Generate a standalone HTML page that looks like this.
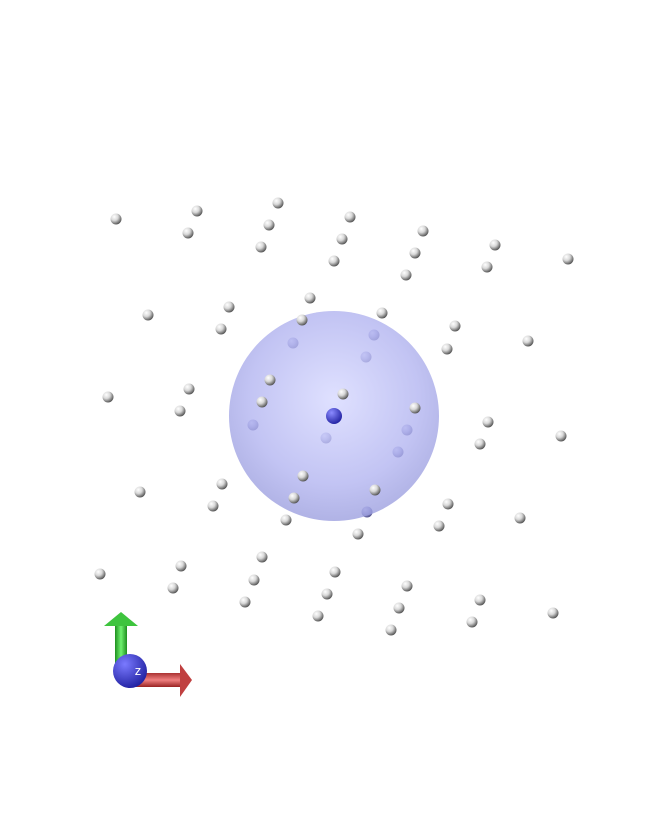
<!DOCTYPE html>
<html><head><meta charset="utf-8"><style>
html,body{margin:0;padding:0;background:#fff;}
svg{display:block;font-family:"Liberation Sans",sans-serif;}
</style></head><body>
<svg id="chart" width="669" height="834" viewBox="0 0 669 834" xmlns="http://www.w3.org/2000/svg">
<defs>
<radialGradient id="atomW" cx="0.35" cy="0.3" r="0.75">
<stop offset="0" stop-color="#ffffff"/><stop offset="0.45" stop-color="#d8d8d8"/><stop offset="1" stop-color="#4a4a4a"/></radialGradient>
<radialGradient id="atomB" cx="0.35" cy="0.3" r="0.75">
<stop offset="0" stop-color="#d0d0f2"/><stop offset="0.5" stop-color="#9a9ad0"/><stop offset="1" stop-color="#50508a"/></radialGradient>
<radialGradient id="shell" cx="0.5" cy="0.42" r="0.58">
<stop offset="0" stop-color="#d6d8ff"/><stop offset="0.7" stop-color="#b1b3f0"/><stop offset="1" stop-color="#9a9dde"/></radialGradient>
<radialGradient id="centerAtom" cx="0.35" cy="0.3" r="0.75">
<stop offset="0" stop-color="#8b8bff"/><stop offset="1" stop-color="#2020a0"/></radialGradient>
<radialGradient id="zBall" cx="0.35" cy="0.3" r="0.8">
<stop offset="0" stop-color="#7a7aff"/><stop offset="1" stop-color="#1a1a9a"/></radialGradient>
<linearGradient id="greenG" x1="0" x2="1"><stop offset="0" stop-color="#1e8f1e"/><stop offset="0.5" stop-color="#6ff26f"/><stop offset="1" stop-color="#1e8f1e"/></linearGradient>
<linearGradient id="redG" x1="0" x2="0" y1="0" y2="1"><stop offset="0" stop-color="#a33"/><stop offset="0.5" stop-color="#f08080"/><stop offset="1" stop-color="#922"/></linearGradient>
</defs>
<g id="behind"></g>
<circle cx="334" cy="416" r="105" fill="url(#shell)" opacity="0.78"/>
<circle cx="334" cy="416" r="8" fill="url(#centerAtom)"/>
<g id="front"></g>
<g>
<rect x="115" y="625" width="12" height="45" fill="url(#greenG)"/>
<polygon points="104,626 138,626 121,612" fill="#3ec43e"/>
<rect x="128" y="673" width="52" height="14" fill="url(#redG)"/>
<polygon points="180,664 180,697 192,680" fill="#c04040"/>
<circle cx="130" cy="671" r="17" fill="url(#zBall)"/>
<text x="138" y="675" font-size="13" fill="#fff" text-anchor="middle">z</text>
</g>
</svg>
<script>
const xs=[116,197,188,278,269,261,350,342,334,423,415,406,495,487,568,
148,229,221,310,302,293,382,374,366,455,447,528,
108,189,180,270,262,253,343,326,415,407,398,488,480,561,
140,222,213,303,294,286,375,367,358,448,439,520,
100,181,173,262,254,245,335,327,318,407,399,391,480,472,553];
const ys=[219,211,233,203,225,247,217,239,261,231,253,275,245,267,259,
315,307,329,298,320,343,313,335,357,326,349,341,
397,389,411,380,402,425,394,438,408,430,452,422,444,436,
492,484,506,476,498,520,490,512,534,504,526,518,
574,566,588,557,580,602,572,594,616,586,608,630,600,622,613];
const cx=334,cy=416,R=105;
const frontSet=[[302,320],[382,313],[270,380],[262,402],[343,394],[415,408],[303,476],[294,498],[375,490]];
const ns="http://www.w3.org/2000/svg";
const behind=document.getElementById('behind'),front=document.getElementById('front');
for(let i=0;i<xs.length;i++){
  const x=xs[i],y=ys[i];
  const inside=Math.hypot(x-cx,y-cy)<R;
  const isFront=frontSet.some(p=>p[0]===x&&p[1]===y);
  const c=document.createElementNS(ns,'circle');
  c.setAttribute('cx',x);c.setAttribute('cy',y);c.setAttribute('r',5.5);
  c.setAttribute('fill',(inside&&!isFront)?'url(#atomB)':'url(#atomW)');
  
  
  (inside&&!isFront?behind:front).appendChild(c);
}
</script>
</body></html>
